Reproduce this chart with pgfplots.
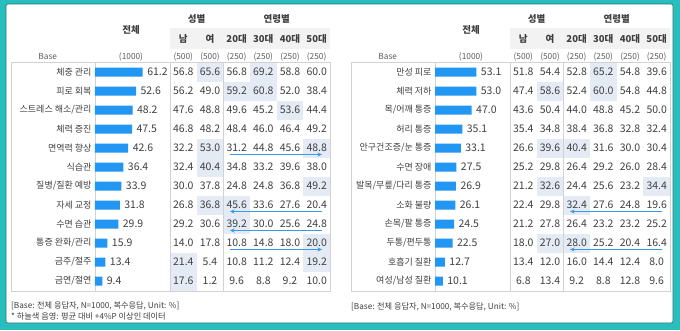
\documentclass[border=0pt]{standalone}
\usepackage{pgfplots}
\pgfplotsset{compat=1.18}
\usepackage{fontspec}
\setmainfont{Noto Sans CJK KR}
\usetikzlibrary{arrows.meta}
\definecolor{teal1}{RGB}{40,190,190}
\definecolor{barblue}{RGB}{33,150,243}
\definecolor{shadec}{RGB}{228,235,245}
\definecolor{hdrgray}{RGB}{242,242,242}
\definecolor{txt}{RGB}{64,64,64}
\definecolor{gridc}{RGB}{210,210,210}
\definecolor{arrowc}{RGB}{58,154,232}
\newcommand{\fs}[1]{\fontsize{#1}{#1}\selectfont}

\tikzset{
  num/.style={font=\fs{10.5}, text=txt, inner sep=0pt, anchor=center},
  hdr/.style={font=\fs{9.5}\bfseries, text=txt, inner sep=0pt, anchor=center},
  base/.style={font=\fs{8.3}, text=txt!85, inner sep=0pt, anchor=center},
  foot/.style={font=\fs{8.2}, text=txt, inner sep=0pt, anchor=west},
  arr/.style={draw=arrowc, line width=1pt, -{Stealth[length=4.5pt,width=4pt]}}
}

\newcommand{\headers}[1]{%
  \fill[hdrgray] ({#1+170},28) rectangle ({#1+330},49);
  \node[hdr] at ({#1+196.7},18.5) {성별};
  \node[hdr] at ({#1+276.7},18.5) {연령별};
  \node[hdr] at ({#1+131},29.5) {전체};
  \foreach \t [count=\i from 0] in {남,여,20대,30대,40대,50대}
    \node[hdr] at ({#1+183.3+26.667*\i},38.5) {\t};
  \node[base] at ({#1+47.7},56.7) {Base};
  \node[base] at ({#1+131},56.7) {(1000)};
  \foreach \t [count=\i from 0] in {{(500)},{(500)},{(250)},{(250)},{(250)},{(250)}}
    \node[base] at ({#1+183.3+26.667*\i},56.7) {\t};
}
\newcommand{\shades}[2]{%
  \foreach \c/\r in {#2}
    \fill[shadec] ({#1+170+26.667*\c},{62.5+19*\r}) rectangle ++(26.667,19);
}
\newcommand{\grid}[1]{%
  \draw[gridc] ({#1+11},62.5) rectangle ({#1+330},291.5);
  \draw[gridc] ({#1+170},62.5) -- ({#1+170},291.5);
  \draw[gridc] ({#1+223.3},62.5) -- ({#1+223.3},291.5);
}
\newcommand{\numbers}[2]{%
  \foreach \a/\b/\c/\d/\e/\f [count=\r from 0] in {#2} {
    \node[num] at ({#1+183.3},{72+19*\r}) {\a};
    \node[num] at ({#1+210.0},{72+19*\r}) {\b};
    \node[num] at ({#1+236.7},{72+19*\r}) {\c};
    \node[num] at ({#1+263.3},{72+19*\r}) {\d};
    \node[num] at ({#1+290.0},{72+19*\r}) {\e};
    \node[num] at ({#1+316.7},{72+19*\r}) {\f};
  }
}
\newcommand{\arrows}[2]{%
  \foreach \r/\d in {#2} {
    \ifnum\d=1
      \draw[arr] ({#1+230},{78.5+19*\r}) -- ({#1+322},{78.5+19*\r});
    \else
      \draw[arr] ({#1+322},{78.5+19*\r}) -- ({#1+230},{78.5+19*\r});
    \fi
  }
}

\pgfplotsset{
  barpanel/.style={
    anchor=south west, scale only axis, width=78pt, height=228pt,
    xmin=0, xmax=100, ymin=-0.5, ymax=11.5, y dir=reverse,
    axis x line=none, axis y line*=left,
    y axis line style={draw=gridc, -},
    ytick={0,...,11}, major tick length=0pt,
    yticklabel style={font=\fs{9}, text=txt},
    xbar, bar width=9pt, point meta=explicit symbolic,
    nodes near coords,
    nodes near coords style={font=\fs{10.5}, text=txt, anchor=west, xshift=1pt},
    clip=false
  }
}

\begin{document}
\begin{tikzpicture}[x=1pt,y=-1pt]
\fill[teal1] (0,0) rectangle (680,330);
\fill[white, draw=teal1!60!black, line width=0.6pt, rounded corners=2pt] (6,4) rectangle (673,323);

% ---------- left panel ----------
\headers{0}
\shades{0}{1/0,3/0,2/1,3/1,4/2,1/4,5/4,1/5,5/6,1/7,2/7,2/8,5/9,0/10,5/10,0/11}
\grid{0}
\numbers{0}{56.8/65.6/56.8/69.2/58.8/60.0,
56.2/49.0/59.2/60.8/52.0/38.4,
47.6/48.8/49.6/45.2/53.6/44.4,
46.8/48.2/48.4/46.0/46.4/49.2,
32.2/53.0/31.2/44.8/45.6/48.8,
32.4/40.4/34.8/33.2/39.6/38.0,
30.0/37.8/24.8/24.8/36.8/49.2,
26.8/36.8/45.6/33.6/27.6/20.4,
29.2/30.6/39.2/30.0/25.6/24.8,
14.0/17.8/10.8/14.8/18.0/20.0,
21.4/5.4/10.8/11.2/12.4/19.2,
17.6/1.2/9.6/8.8/9.2/10.0}
\arrows{0}{4/1,7/0,8/0,9/1}

\begin{axis}[barpanel, at={(95pt,-290.5pt)},
  yticklabels={체중 관리,피로 회복,스트레스 해소/관리,체력 증진,면역력 향상,식습관,질병/질환 예방,자세 교정,수면 습관,통증 완화/관리,금주/절주,금연/절연}]
\addplot[fill=barblue, draw=none] coordinates {
(61.2,0)[61.2] (52.6,1)[52.6] (48.2,2)[48.2] (47.5,3)[47.5]
(42.6,4)[42.6] (36.4,5)[36.4] (33.9,6)[33.9] (31.8,7)[31.8]
(29.9,8)[29.9] (15.9,9)[15.9] (13.4,10)[13.4] (9.4,11)[9.4]};
\end{axis}

\node[foot] at (11,306) {[Base: 전체 응답자, N=1000, 복수응답, Unit: \%]};
\node[foot] at (11,316.5) {* 하늘색 음영: 평균 대비 +4\%P 이상인 데이터};

% ---------- right panel ----------
\headers{340}
\shades{340}{3/0,1/1,3/1,1/4,2/4,1/6,5/6,2/7,1/9,2/9}
\grid{340}
\numbers{340}{51.8/54.4/52.8/65.2/54.8/39.6,
47.4/58.6/52.4/60.0/54.8/44.8,
43.6/50.4/44.0/48.8/45.2/50.0,
35.4/34.8/38.4/36.8/32.8/32.4,
26.6/39.6/40.4/31.6/30.0/30.4,
25.2/29.8/26.4/29.2/26.0/28.4,
21.2/32.6/24.4/25.6/23.2/34.4,
22.4/29.8/32.4/27.6/24.8/19.6,
21.2/27.8/26.4/23.2/23.2/25.2,
18.0/27.0/28.0/25.2/20.4/16.4,
13.4/12.0/16.0/14.4/12.4/8.0,
6.8/13.4/9.2/8.8/12.8/9.6}
\arrows{340}{7/0,9/0}

\begin{axis}[barpanel, at={(435pt,-290.5pt)},
  yticklabels={만성 피로,체력 저하,목/어깨 통증,허리 통증,안구건조증/눈 통증,수면 장애,발목/무릎/다리 통증,소화 불량,손목/팔 통증,두통/편두통,호흡기 질환,여성/남성 질환}]
\addplot[fill=barblue, draw=none] coordinates {
(53.1,0)[53.1] (53.0,1)[53.0] (47.0,2)[47.0] (35.1,3)[35.1]
(33.1,4)[33.1] (27.5,5)[27.5] (26.9,6)[26.9] (26.1,7)[26.1]
(24.5,8)[24.5] (22.5,9)[22.5] (12.7,10)[12.7] (10.1,11)[10.1]};
\end{axis}

\node[foot] at (351,306.5) {[Base: 전체 응답자, N=1000, 복수응답, Unit: \%]};
\end{tikzpicture}
\end{document}
